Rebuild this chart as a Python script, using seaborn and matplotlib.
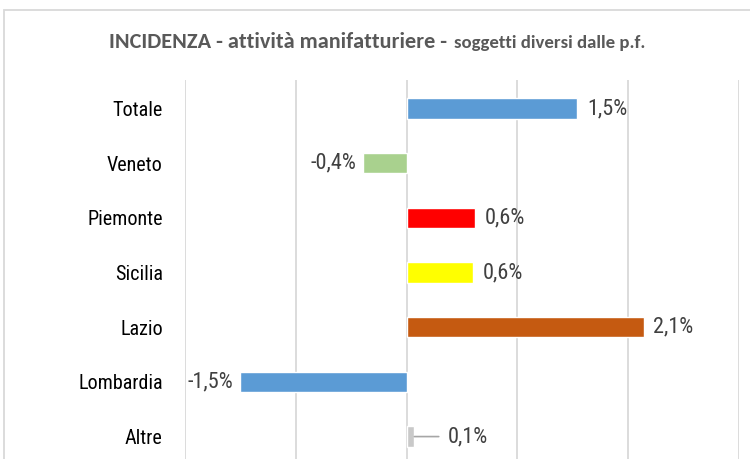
import matplotlib
matplotlib.use("Agg")
import matplotlib.pyplot as plt
from matplotlib.patches import Rectangle
import seaborn as sns
import pandas as pd

categories = ["Totale", "Veneto", "Piemonte", "Sicilia", "Lazio", "Lombardia", "Altre"]
values = [1.54, -0.39, 0.62, 0.60, 2.14, -1.50, 0.07]
colors = ["#5B9BD5", "#A9D18E", "#FF0000", "#FFFF00", "#C55A11", "#5B9BD5", "#C9C9C9"]
xticks = [-2, -1, 0, 1, 2, 3]
title_main = "INCIDENZA - attività manifatturiere - "
title_sub = "soggetti diversi dalle p.f."

sns.set_style("white")
plt.rcParams['font.family'] = ['Roboto Condensed', 'DejaVu Sans']

df = pd.DataFrame({"cat": categories, "val": values})

fig = plt.figure(figsize=(7.5, 4.59), dpi=100)
ax = fig.add_axes([185/750, 0, (739-185)/750, 1 - 80/459])

sns.barplot(data=df, y="cat", x="val", hue="cat", palette=colors, orient="h",
            width=0.37, legend=False, ax=ax, saturation=1)

ax.set_xlim(-2, 3)
ax.set_ylim(6.41, -0.52)
ax.set_xticks(xticks)
ax.set_xticklabels([])
ax.xaxis.grid(True, color="#D9D9D9", lw=1.3)
ax.yaxis.grid(False)
ax.set_axisbelow(True)
for s in ax.spines.values():
    s.set_visible(False)
ax.tick_params(axis="y", length=0, pad=16, labelsize=14.5, labelcolor="#000000")
ax.tick_params(axis="x", length=0)
ax.set_xlabel("")
ax.set_ylabel("")

def fmt(v):
    return f"{v:.1f}".replace(".", ",") + "%"

lab_kw = dict(fontsize=16, color="#404040")
for i, v in enumerate(values):
    if categories[i] == "Altre":
        ax.annotate(fmt(v), xy=(v, i), xytext=(v + 0.3, i), va="center", ha="left",
                    arrowprops=dict(arrowstyle="-", color="#A6A6A6", lw=1.2,
                                    shrinkA=4, shrinkB=0), **lab_kw)
    elif v >= 0:
        ax.annotate(fmt(v), xy=(v, i), xytext=(7, 0), textcoords="offset points",
                    va="center", ha="left", **lab_kw)
    else:
        ax.annotate(fmt(v), xy=(v, i), xytext=(-5, 0), textcoords="offset points",
                    va="center", ha="right", **lab_kw)

fig.patches.append(Rectangle((4/750, -0.1), 1.0, 1.1 - 10/459, transform=fig.transFigure,
                             fill=False, edgecolor="#D9D9D9", lw=1.3))

fig.text(452/750, 1 - 48/459, title_main, ha="right", va="baseline",
         fontsize=16, fontweight="bold", color="#595959", family=["Carlito", "DejaVu Sans"])
fig.text(454/750, 1 - 48/459, title_sub, ha="left", va="baseline",
         fontsize=13.5, fontweight="bold", color="#595959", family=["Carlito", "DejaVu Sans"])

fig.savefig("out.png", dpi=100)
